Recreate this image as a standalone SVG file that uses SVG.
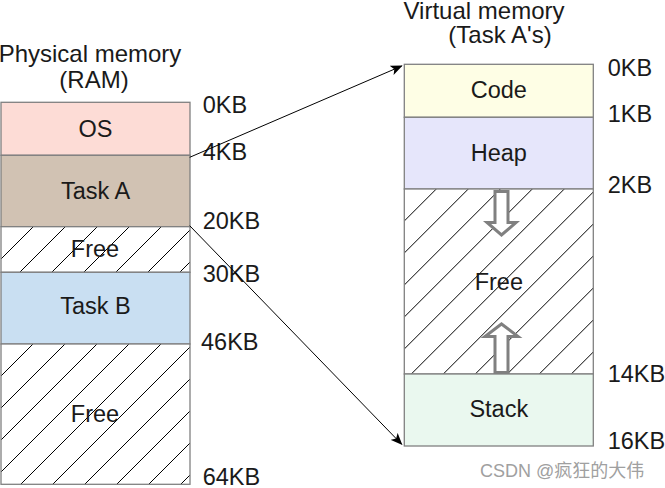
<svg xmlns="http://www.w3.org/2000/svg" width="665" height="488" viewBox="0 0 665 488">
<style>
.t{font-family:"Liberation Sans",Arial,sans-serif;font-size:23.5px;fill:#1a1a1a}
.ti{font-size:24px}
.c{text-anchor:middle}
.box{stroke:#808080;stroke-width:1.3}
.conn{stroke:#000;stroke-width:1;fill:none}
.grow{fill:#fff;stroke:#808080;stroke-width:3;stroke-linejoin:miter}
</style>
<defs>
<pattern id="h1" patternUnits="userSpaceOnUse" x="1" y="227" width="32" height="32"><rect width="32" height="32" fill="#fff"/><path d="M-8 40L40 -8M-8 8L8 -8M24 40L40 24" stroke="#000" stroke-width="1"/></pattern>
<pattern id="h2" patternUnits="userSpaceOnUse" x="1" y="344" width="32" height="32"><rect width="32" height="32" fill="#fff"/><path d="M-8 40L40 -8M-8 8L8 -8M24 40L40 24" stroke="#000" stroke-width="1"/></pattern>
<pattern id="h3" patternUnits="userSpaceOnUse" x="404.3" y="189" width="32" height="32"><rect width="32" height="32" fill="#fff"/><path d="M-8 40L40 -8M-8 8L8 -8M24 40L40 24" stroke="#000" stroke-width="1"/></pattern>
<marker id="ah" viewBox="0 0 12 10" refX="11" refY="5" markerWidth="12" markerHeight="10" markerUnits="userSpaceOnUse" orient="auto"><path d="M0 0L12 5L0 10L3 5z" fill="#000"/></marker>
</defs>

<g id="titles">
<text class="t ti c" x="90" y="62.3">Physical memory</text>
<text class="t ti c" x="94" y="87.5">(RAM)</text>
<text class="t ti c" x="484" y="18.5">Virtual memory</text>
<text class="t ti c" x="500" y="43">(Task A's)</text>
</g>

<g id="os"><rect class="box" x="1" y="102.3" width="189" height="53" fill="#fddcd6"/><text class="t c" x="95.5" y="136.7">OS</text></g>
<g id="taskA"><rect class="box" x="1" y="155.3" width="189" height="71.4" fill="#d1c2b3"/><text class="t c" x="95.5" y="199">Task A</text></g>
<g id="free1"><rect class="box" x="1" y="226.7" width="189" height="45.6" fill="url(#h1)"/><text class="t c" x="95" y="257.3">Free</text></g>
<g id="taskB"><rect class="box" x="1" y="272.3" width="189" height="71.7" fill="#c9dff2"/><text class="t c" x="95.5" y="314">Task B</text></g>
<g id="free2"><rect class="box" x="1" y="344" width="189" height="140.3" fill="url(#h2)"/><text class="t c" x="95" y="421.7">Free</text></g>

<g id="leftLabels">
<text class="t" x="202.7" y="112.7">0KB</text>
<text class="t" x="202.7" y="160">4KB</text>
<text class="t" x="202.7" y="229">20KB</text>
<text class="t" x="202.7" y="282.3">30KB</text>
<text class="t" x="201" y="350">46KB</text>
<text class="t" x="202.7" y="485">64KB</text>
</g>

<g id="code"><rect class="box" x="404.3" y="64.3" width="189" height="53" fill="#fefee5"/><text class="t c" x="498.8" y="98.3">Code</text></g>
<g id="heap"><rect class="box" x="404.3" y="117.3" width="189" height="71.7" fill="#e6e6fb"/><text class="t c" x="498.8" y="160.7">Heap</text></g>
<g id="freeV"><rect class="box" x="404.3" y="189" width="189" height="185" fill="url(#h3)"/><text class="t c" x="498.8" y="290">Free</text></g>
<g id="stack"><rect class="box" x="404.3" y="374" width="189" height="72" fill="#eaf8ef"/><text class="t c" x="498.8" y="417.3">Stack</text></g>

<g id="growth">
<path class="grow" d="M495 191.5H508V222.5H516L501.5 235L487 222.5H495Z"/>
<path class="grow" d="M495 372.5H508V336.5H518L501.5 324L485 336.5H495Z"/>
</g>

<g id="rightLabels">
<text class="t" x="607.7" y="76">0KB</text>
<text class="t" x="607.7" y="121.7">1KB</text>
<text class="t" x="607.7" y="192.7">2KB</text>
<text class="t" x="607.7" y="381.7">14KB</text>
<text class="t" x="607.7" y="449.3">16KB</text>
</g>

<g id="connectors">
<path class="conn" d="M189.7 157.3L401.7 66" marker-end="url(#ah)"/>
<path class="conn" d="M189.7 225.7L401.7 444.3" marker-end="url(#ah)"/>
</g>

<text x="480" y="476.5" style="font-family:'Liberation Sans','Noto Sans CJK SC',sans-serif;font-size:18px;fill:#a0a0a0">CSDN @疯狂的大伟</text>
</svg>
